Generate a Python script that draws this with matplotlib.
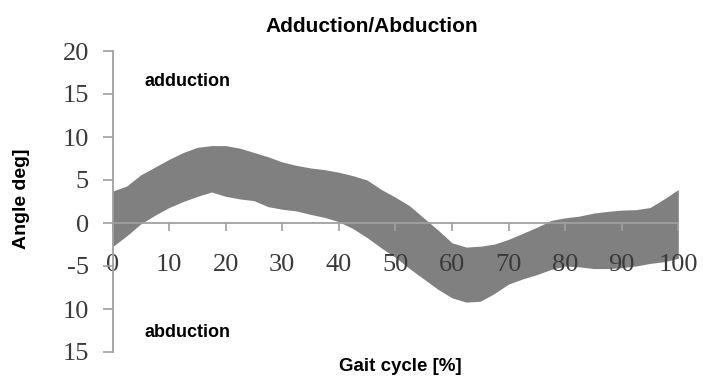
import matplotlib
matplotlib.use("Agg")
import matplotlib.pyplot as plt

# gait cycle positions (%) and band limits (deg)
gait = [0, 2.5, 5, 7.5, 10, 12.5, 15, 17.5, 20, 22.5, 25, 27.5, 30, 32.5, 35, 37.5,
        40, 42.5, 45, 47.5, 50, 52.5, 55, 57.5, 60, 62.5, 65, 67.5, 70, 72.5, 75,
        77.5, 80, 82.5, 85, 87.5, 90, 92.5, 95, 97.5, 100]
upper = [3.7, 4.3, 5.6, 6.5, 7.4, 8.2, 8.8, 9.0, 9.0, 8.7, 8.2, 7.7, 7.1, 6.7, 6.4, 6.2,
         5.9, 5.5, 5.0, 3.9, 3.0, 2.0, 0.6, -0.8, -2.3, -2.8, -2.7, -2.45, -1.9, -1.2, -0.5,
         0.3, 0.6, 0.8, 1.15, 1.35, 1.5, 1.55, 1.8, 2.8, 3.9]
lower = [-2.75, -1.5, -0.1, 0.9, 1.8, 2.5, 3.1, 3.6, 3.1, 2.8, 2.6, 1.9, 1.6, 1.4, 1.0, 0.65,
         0.15, -0.65, -1.7, -2.9, -4.0, -5.3, -6.5, -7.7, -8.7, -9.2, -9.1, -8.2, -7.1, -6.5, -6.0,
         -5.4, -5.0, -5.1, -5.3, -5.3, -5.2, -5.0, -4.7, -4.5, -4.1]

xticks = [0, 10, 20, 30, 40, 50, 60, 70, 80, 90, 100]
yticks = [20, 15, 10, 5, 0, -5, -10, -15]
ytick_labels = ["20", "15", "10", "5", "0", "-5", "10", "15"]

W, H = 703, 383
fig = plt.figure(figsize=(W / 100, H / 100), dpi=100)
ax = fig.add_axes([112.5 / W, 31 / H, 565.8 / W, 301 / H])

ax.fill_between(gait, lower, upper, color="#808080", linewidth=0)

ax.set_xlim(0, 100)
ax.set_ylim(-15, 20)
ax.spines["top"].set_visible(False)
ax.spines["right"].set_visible(False)
ax.spines["bottom"].set_position(("data", 0))
for s in ("left", "bottom"):
    ax.spines[s].set_color("#a0a0a0")
    ax.spines[s].set_linewidth(1.3)
    ax.spines[s].set_zorder(3)

tick_font = {"family": "Liberation Serif", "size": 19}
ax.set_xticks(xticks)
ax.set_xticklabels([str(t) for t in xticks], fontdict=tick_font, color="#3a3a3a")
ax.set_yticks(yticks)
ax.set_yticklabels(ytick_labels, fontdict=tick_font, color="#3a3a3a")
ax.tick_params(axis="x", direction="out", length=6, width=1.2, color="#a0a0a0", pad=16)
ax.tick_params(axis="y", direction="out", length=7, width=1.2, color="#a0a0a0", pad=10)

bold = {"family": "Liberation Sans", "weight": "bold"}
ax.text(5.7, 15.9, "adduction", fontsize=13, va="baseline", ha="left", **bold)
ax.text(5.7, -13.2, "abduction", fontsize=13, va="baseline", ha="left", **bold)

fig.text(371.5 / W, 1 - 31.7 / H, "Adduction/Abduction", fontsize=15, ha="center",
         va="baseline", **bold)
fig.text(21.5 / W, 1 - 198.5 / H, "Angle deg]", fontsize=14, rotation=90,
         ha="center", va="center", **bold)
fig.text(400 / W, 1 - 366.5 / H, "Gait cycle [%]", fontsize=13.5, ha="center",
         va="center", **bold)

fig.savefig("out.png", dpi=100)
